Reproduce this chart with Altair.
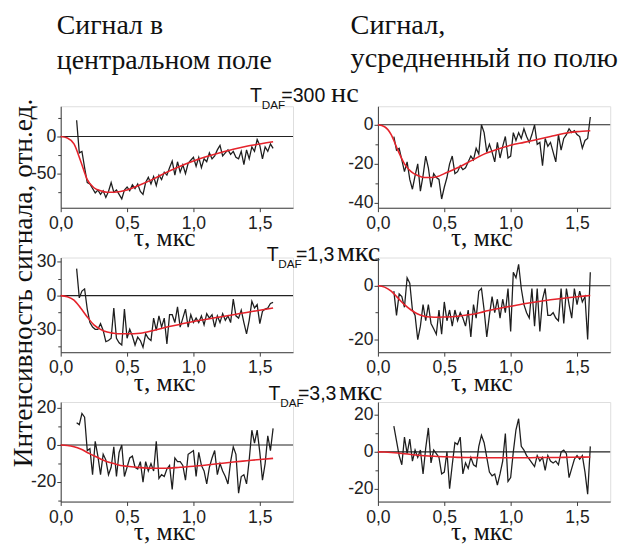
import altair as alt
import pandas as pd

# sampling grid of the measured signals (мкс)
tau = [0.12, 0.14, 0.16, 0.18, 0.20, 0.22, 0.24, 0.26, 0.28, 0.30, 0.32, 0.34, 0.36, 0.38, 0.40,
       0.42, 0.44, 0.46, 0.48, 0.50, 0.52, 0.54, 0.56, 0.58, 0.60, 0.62, 0.64, 0.66, 0.68, 0.70,
       0.72, 0.74, 0.76, 0.78, 0.80, 0.82, 0.84, 0.86, 0.88, 0.90, 0.92, 0.94, 0.96, 0.98, 1.00,
       1.02, 1.04, 1.06, 1.08, 1.10, 1.12, 1.14, 1.16, 1.18, 1.20, 1.22, 1.24, 1.26, 1.28, 1.30,
       1.32, 1.34, 1.36, 1.38, 1.40, 1.42, 1.44, 1.46, 1.48, 1.50, 1.52, 1.54, 1.56, 1.58, 1.60]

# T_DAF = 300 нс
central_300 = [22, -22, -20, -42, -62, -64, -70, -76, -72, -78, -73, -82, -74, -62, -75,
               -72, -78, -84, -72, -68, -73, -65, -70, -64, -74, -78, -62, -55, -64, -54,
               -66, -52, -58, -48, -52, -42, -33, -52, -34, -48, -38, -50, -36, -32, -28,
               -40, -28, -42, -30, -34, -22, -30, -26, -18, -12, -26, -22, -18, -24, -20,
               -28, -30, -20, -38, -18, -30, -14, -20, -4, -12, -30, -14, -20, -10, -16]
average_300 = [-6, -13, -12, -18, -24, -19, -28, -33, -26, -20, -34, -26, -16, -22, -32,
               -25, -27, -28, -38, -32, -27, -20, -16, -25, -24, -21, -23, -22, -19, -16,
               -18, -12, -15, 0, -4, -14, -10, -14, -19, -9, -17, -11, -6, -17, -16,
               -4, -8, -4, -7, -2, -6, -9, -5, 0, -10, -9, -21, -7, -11, -9,
               -14, -19, -5, -13, -7, -5, -2, -4, -3, -5, -6, -12, -8, -7, 4]
# T_DAF = 1,3 мкс
central_1300 = [24, -2, 4, 6, -12, -24, -28, -30, -30, -25, -31, -41, -40, -38, -11,
                -38, -42, -44, -12, -38, -30, -36, -44, -37, -40, -46, -34, -38, -40, -20,
                -31, -18, -28, -20, -43, -17, -17, -24, -10, -28, -20, -12, -28, -17, -24,
                -20, -24, -18, -26, -16, -20, -17, -28, -18, -24, -16, -22, -18, -24, -3,
                -18, -20, -13, -24, -34, -22, -5, -11, -8, -25, -14, -12, -11, -7, -6]
average_1300 = [-2, -11, -3, -4, -8, 3, 1, -9, -11, -20, -15, -7, -13, -7, -14,
                -16, -18, -9, -18, -6, -13, -9, -15, -9, -13, -10, -12, -15, -9, -19,
                -7, -12, -2, -1, -9, -19, -11, -4, -10, -5, -12, -5, -10, -1, -17,
                5, 3, 8, -1, -7, -10, -12, -1, -15, -1, -17, -5, -1, -11, -11,
                -10, -12, -13, -1, -14, -1, -7, -12, -1, -7, -2, -6, -4, -20, 5]
# T_DAF = 3,3 мкс
central_3300 = [12, 11, 17, 15, -3, -2, -16, 2, -6, -16, -5, -8, -16, -12, -1,
                -17, -4, 0, -17, -12, -7, -6, -12, -13, -9, -20, -9, -14, -10, -14,
                2, -18, -16, -17, -13, -11, -24, -7, -9, -9, -11, -19, -5, -4, -3,
                -17, -4, -11, -14, -21, -12, -7, -3, -16, -10, -14, -17, -21, -9, -1,
                -5, -26, -17, -16, -21, -8, 8, 1, 8, -4, -19, -10, 5, -3, 9]
average_3300 = [14, 6, -2, -7, 8, -1, 7, -5, 1, -3, 1, -12, 2, 13, -6,
                1, -1, -3, -12, -11, 0, -20, -7, 5, 4, 8, -12, -6, -9, -3,
                -7, -8, 3, 9, 5, -3, -11, -13, -12, -18, -12, -5, 10, -16, -14,
                0, 12, 18, 3, 1, -2, -4, -6, -8, -2, -5, -3, -10, -2, -5,
                -6, -5, -7, 0, 1, -1, -14, -9, -4, -2, -4, -2, -11, -23, 3]

# fitted curves
fit_tau = [0, 0.05, 0.1, 0.15, 0.2, 0.25, 0.3, 0.35, 0.4, 0.45, 0.5,
           0.6, 0.7, 0.8, 0.9, 1.0, 1.1, 1.2, 1.3, 1.4, 1.5, 1.6]
fit_c300 = [0, -2, -10, -33, -58, -69, -73, -75, -75, -74, -72,
            -65, -57, -48, -40, -33, -27, -22, -17, -13, -10, -7]
fit_a300 = [0, -1, -5, -13, -20, -24, -26, -27, -27, -26.5, -25,
            -22, -18.5, -15, -12.5, -10.5, -9, -7.5, -6, -4.5, -3.5, -3]
fit_c1300 = [0, -1, -4, -11, -19, -26, -30, -32.5, -33.5, -34, -34,
             -33.5, -31, -28, -25.5, -23, -21, -19, -17, -15, -13, -11]
fit_a1300 = [0, -0.5, -2, -4.5, -7, -9, -10.5, -11.3, -11.6, -11.7, -11.6,
             -11.3, -10.7, -9.6, -8.5, -7.6, -6.7, -5.9, -5.2, -4.6, -4.1, -3.6]
fit_c3300 = [0, -0.3, -1, -2.2, -4, -5.8, -7.5, -9, -10, -11, -11.5,
             -12.2, -12.5, -12.5, -12, -11.5, -10.8, -10, -9.2, -8.5, -7.8, -7.2]
fit_a3300 = [0, -0.1, -0.3, -0.6, -1, -1.4, -1.8, -2.1, -2.3, -2.5, -2.7,
             -3, -3.1, -3.2, -3.2, -3.2, -3.2, -3.1, -3.1, -3, -2.9, -2.8]

x_ticks = [0, 0.25, 0.5, 0.75, 1.0, 1.25, 1.5, 1.75]

SANS = "Liberation Sans"
SERIF = "Liberation Serif"
AX = "#3a3a3a"


def label(text, x, y, font, size, angle=0, align="left", baseline="alphabetic"):
    kw = dict(text=text, font=font, fontSize=size, align=align, baseline=baseline,
              color="#111")
    if angle:
        kw["angle"] = angle
    return alt.Chart(pd.DataFrame({"k": [0]})).mark_text(**kw).encode(
        x=alt.value(x), y=alt.value(y))


def tdaf(xs, y, value, unit):
    # xs: left positions of "T", "DAF", value, unit
    return [
        label("T", xs[0], y, SANS, 20),
        label("DAF", xs[1], y + 7, SANS, 12),
        label(value, xs[2], y, SANS, 20),
        label(unit, xs[3], y, SERIF, 29),
    ]


def panel(sig, fit, ydom, yvals, yminor, h, extras):
    df = pd.DataFrame({"t": tau, "v": sig})
    fdf = pd.DataFrame({"t": fit_tau, "v": fit})
    xax = alt.Axis(
        values=x_ticks,
        labelExpr="abs(datum.value*2 - round(datum.value*2)) < 0.01 ? "
                  "replace(format(datum.value, '.1f'), '.', ',') : ''",
        title="τ, мкс", titleFont=SERIF, titleFontSize=26, titleFontWeight="normal",
        titleColor="#111", titleX=106, titleY=39, titleBaseline="alphabetic",
        titleAlign="center",
        labelFont=SANS, labelFontSize=18, labelColor="#222", labelFlush=False,
        labelOverlap=False, labelPadding=3, tickSize=4, tickColor=AX, domainColor=AX,
        grid=False)
    yax = alt.Axis(
        orient="left", values=yvals, labelExpr="'' + datum.value",
        title=None, labelFont=SANS, labelFontSize=18, labelColor="#222",
        labelOverlap=False, labelFlush=False, labelPadding=1, tickSize=4,
        tickColor=AX, domainColor=AX, grid=False)
    yminor_ax = alt.Axis(orient="left", values=yminor, labels=False, domain=False,
                         title=None, tickSize=3, tickColor=AX, grid=False)
    xs = alt.Scale(domain=[0, 1.75], nice=False)
    ys = alt.Scale(domain=ydom, nice=False, zero=False)
    zero = alt.Chart(pd.DataFrame({"z": [0]})).mark_rule(
        color="#222", strokeWidth=1.1).encode(
        y=alt.Y("z:Q", scale=ys, axis=yminor_ax))
    black = alt.Chart(df).mark_line(color="#1e1e1e", strokeWidth=1.3).encode(
        x=alt.X("t:Q", scale=xs, axis=xax), y=alt.Y("v:Q", scale=ys, axis=yax))
    red = alt.Chart(fdf).mark_line(color="#e5232b", strokeWidth=1.6,
                                   interpolate="monotone").encode(
        x=alt.X("t:Q", scale=xs), y=alt.Y("v:Q", scale=ys, axis=None))
    return alt.layer(zero, black, red, *extras).resolve_axis(y="independent").properties(
        width=238, height=h)


l1 = panel(central_300, fit_c300, [-96, 40.8], [-50, 0], [-75, -25, 25], 104,
           [label("Сигнал в", -4, -74, SERIF, 28.5),
            label("центральном поле", -4, -38, SERIF, 28.5)]
           + tdaf([194, 206, 226, 277], -4, "=300", "нс"))
r1 = panel(average_300, fit_a300, [-42.5, 9.5], [-40, -20, 0], [-30, -10], 104,
           [label("Сигнал,", -28, -74, SERIF, 29),
            label("усредненный по полю", -28, -40, SERIF, 29)])

l2 = panel(central_1300, fit_c1300, [-50.4, 33.9], [-30, 0, 30], [-45, -15, 15], 97,
           [label("Интенсивность сигнала, отн.ед.", -37, 26, SERIF, 28, angle=270,
                  align="center", baseline="middle")]
           + tdaf([211, 223, 241, 283], 4, "=1,3", "мкс"))
r2 = panel(average_1300, fit_a1300, [-24.7, 10.5], [-20, 0], [-10, 10], 97, [])

l3 = panel(central_3300, fit_c3300, [-30.5, 23.2], [-20, 0, 20], [-30, -10, 10], 102,
           tdaf([213, 225, 243, 285], -2, "=3,3", "мкс"))
r3 = panel(average_3300, fit_a3300, [-27, 27.1], [-20, 0, 20], [-10, 10], 102, [])

chart = alt.concat(l1, r1, l2, r2, l3, r3, columns=2,
                   spacing={"row": 51, "column": 87}, bounds="flush").properties(
    padding={"left": 2, "top": -4, "right": 0, "bottom": 0}
).configure_view(stroke=None).configure(background="white")

chart.save("out.html", embed_options={"renderer": "svg", "actions": False})
